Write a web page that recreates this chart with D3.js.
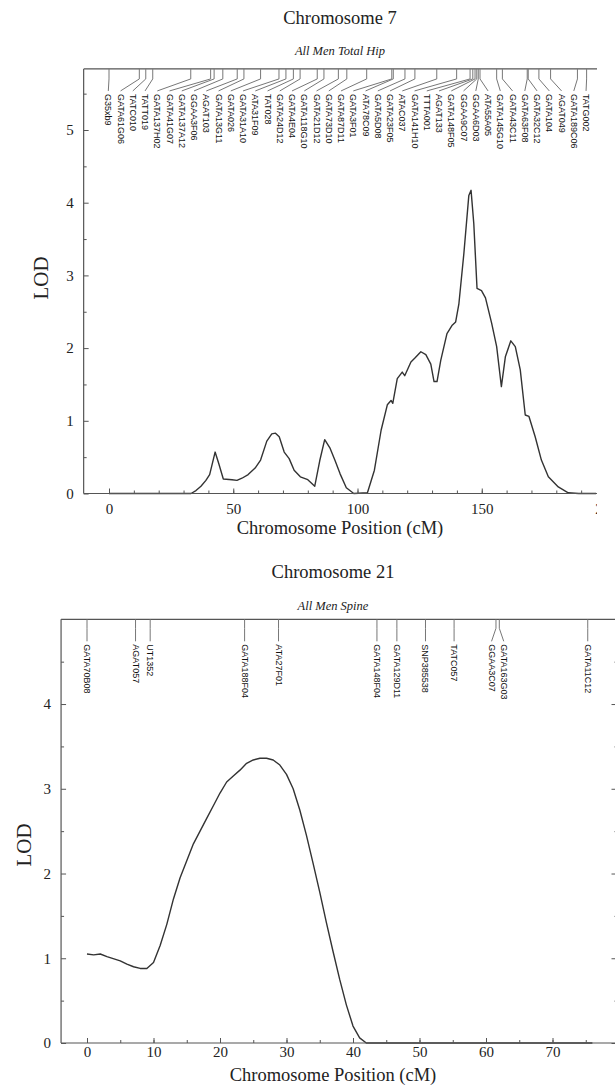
<!DOCTYPE html>
<html><head><meta charset="utf-8">
<script src="https://cdn.jsdelivr.net/npm/d3@7"></script>
<style>body{margin:0;background:#fff}svg{display:block}</style>
</head><body>
<svg id="c" width="615" height="1085"></svg>
<script>
// ---------- Chromosome 7 (All Men Total Hip) ----------
const chr7Markers = ["G35xb9","GATA61G06","TATC010","TATT019","GATA137H02","GATA41G07","GATA137A12","GGAA3F06","AGAT103","GATA13G11","GATA026","GATA31A10","ATA31F09","TAT028","GATA24D12","GATA4E04","GATA118G10","GATA21D12","GATA73D10","GATA87D11","GATA3F01","ATA78C09","GATA5D08","GATA23F05","ATAC037","GATA141H10","TTTA001","AGAT133","GATA148F05","GGAA9C07","GGAA6D03","ATA55A05","GATA145G10","GATA43C11","GATA63F08","GATA32C12","GATA104","AGAT049","GATA189C06","TATG002"];
const chr7MarkerPos = [0,12.2,14.8,17.6,32.9,40.9,42.3,45.8,51.6,54.3,61.0,68.4,71.2,74.2,76.9,83.8,86.5,92.3,95.7,103.7,113.8,114.4,119.1,123.1,131.9,139.9,145.3,146.4,147.3,148.0,148.6,149.3,156.0,158.3,168.3,168.7,173.0,177.7,188.5,192.2];
const chr7Pos = [0,10,20,30,33,35,37,39,40.5,42.7,44.1,46,49.5,51.5,53.5,56,58.8,61,63.5,65.5,67,68.5,70.5,72.5,74.5,77,80,82.8,84.8,86.8,89,91,93,95.5,98.5,104,106.8,109.5,112,113.5,114.2,116,118,119,121.5,123,125.5,127.5,129.5,130.8,132,133.5,136,138,139.5,140.8,142.8,144.8,145.7,146.8,148.1,149.9,151.5,154,156,157.9,159.5,161.7,163.5,165.5,167.5,169,171.5,174,176.8,180.8,184.8,189,196];
const chr7Lod = [0,0,0,0,0,0.04,0.10,0.18,0.26,0.57,0.42,0.20,0.19,0.18,0.21,0.26,0.35,0.46,0.72,0.82,0.83,0.78,0.57,0.48,0.32,0.23,0.19,0.10,0.45,0.74,0.62,0.45,0.27,0.08,0,0.01,0.32,0.87,1.22,1.28,1.24,1.58,1.67,1.62,1.81,1.86,1.95,1.91,1.78,1.54,1.54,1.83,2.20,2.31,2.36,2.61,3.30,4.10,4.17,3.71,2.82,2.79,2.69,2.34,2.02,1.47,1.88,2.10,2.02,1.70,1.08,1.06,0.78,0.46,0.23,0.09,0.01,0,0];
const chr7XTicks = [0,50,100,150,200];
const chr7XMinor = [0,10,20,30,40,50,60,70,80,90,100,110,120,130,140,150,160,170,180,190];
const chr7YTicks = [0,1,2,3,4,5];
const chr7YMinor = [0.5,1.5,2.5,3.5,4.5,5.5];

// ---------- Chromosome 21 (All Men Spine) ----------
const chr21Markers = ["GATA70B08","AGAT057","UT1352","GATA188F04","ATA27F01","GATA148F04","GATA129D11","SNP385538","TATC057","GGAA3C07","GATA163G03","GATA11C12"];
const chr21MarkerPos = [0,7.3,9.5,23.7,28.8,43.6,46.6,50.9,55.2,61.5,62.0,75.3];
const chr21Pos = [0,1,2,3,5,6,7,8,9,10,11,12,13,14,15,16,17,18,19,20,21,22,23,24,25,26,27,28,29,30,31,32,33,34,35,36,37,38,39,40,41,42,76];
const chr21Lod = [1.05,1.04,1.05,1.02,0.97,0.93,0.90,0.88,0.88,0.95,1.15,1.40,1.70,1.95,2.15,2.35,2.50,2.65,2.80,2.95,3.08,3.15,3.22,3.30,3.34,3.36,3.36,3.34,3.28,3.17,3.00,2.75,2.45,2.12,1.78,1.42,1.08,0.75,0.45,0.20,0.06,0,0];
const chr21XTicks = [0,10,20,30,40,50,60,70];
const chr21XMinor = [0,5,10,15,20,25,30,35,40,45,50,55,60,65,70,75];
const chr21YTicks = [0,1,2,3,4];
const chr21YMinor = [0.5,1.5,2.5,3.5,4.5];

const svg = d3.select("#c");
const SERIF = "'Liberation Serif','Times New Roman',serif";
const SANS = "'Liberation Sans',Arial,sans-serif";
const AX = "#555";

function panel(o) {
  const g = svg.append("g");
  if (o.clipW) {
    const id = "clip" + o.id;
    svg.append("defs").append("clipPath").attr("id", id)
      .append("rect").attr("x", 0).attr("y", o.clipY0).attr("width", o.clipW).attr("height", o.clipY1 - o.clipY0);
    g.attr("clip-path", `url(#${id})`);
  }
  const x = o.x, y = o.y;
  const L = x(o.xMin), R = o.frameRight, T = y(o.yMax), B = y(0);

  // titles
  g.append("text").attr("x", o.titleX).attr("y", o.titleY).attr("text-anchor", "middle")
    .style("font-family", SERIF).style("font-size", "18.5px").attr("fill", "#222").text(o.title);
  g.append("text").attr("x", o.titleX).attr("y", o.subY).attr("text-anchor", "middle")
    .style("font-family", SERIF).style("font-style", "italic").style("font-size", "12.5px").attr("fill", "#222").text(o.sub);

  // curve
  const pts = o.pos.map((p, i) => [p, o.lod[i]]);
  g.append("path").datum(pts)
    .attr("d", d3.line().x(d => x(d[0])).y(d => y(d[1])))
    .attr("fill", "none").attr("stroke", "#333").attr("stroke-width", 1.4).attr("stroke-linejoin", "round");

  // frame lines
  g.append("line").attr("x1", L).attr("x2", L).attr("y1", T).attr("y2", B).attr("stroke", AX).attr("stroke-width", 1.2);
  g.append("line").attr("x1", L).attr("x2", R).attr("y1", T).attr("y2", T).attr("stroke", AX).attr("stroke-width", 1.2);
  g.append("line").attr("x1", L).attr("x2", o.axisRight).attr("y1", B).attr("y2", B).attr("stroke", AX).attr("stroke-width", 1.2);
  if (o.rightAxisX) {
    g.append("line").attr("x1", o.rightAxisX).attr("x2", o.rightAxisX).attr("y1", T).attr("y2", B).attr("stroke", AX).attr("stroke-width", 1.2);
  }

  // x axis (ticks point inward)
  const xa = g.append("g").attr("transform", `translate(0,${B})`)
    .call(d3.axisBottom(x).tickValues(o.xTicks).tickSize(-5).tickPadding(o.xPad).tickFormat(d3.format("d")));
  const xm = g.append("g").attr("transform", `translate(0,${B})`)
    .call(d3.axisBottom(x).tickValues(o.xMinor).tickSize(-3).tickFormat(""));
  [xa, xm].forEach(a => { a.select(".domain").remove(); a.selectAll("line").attr("stroke", AX); });
  xa.selectAll("text").style("font-family", SERIF).style("font-size", "15px").attr("fill", "#222");

  // y axis (ticks point inward)
  const ya = g.append("g").attr("transform", `translate(${L},0)`)
    .call(d3.axisLeft(y).tickValues(o.yTicks).tickSize(-5).tickPadding(10).tickFormat(d3.format("d")));
  const ym = g.append("g").attr("transform", `translate(${L},0)`)
    .call(d3.axisLeft(y).tickValues(o.yMinor).tickSize(-3).tickFormat(""));
  [ya, ym].forEach(a => { a.select(".domain").remove(); a.selectAll("line").attr("stroke", AX); });
  ya.selectAll("text").style("font-family", SERIF).style("font-size", "15px").attr("fill", "#222");
  if (o.rightAxisX) {
    const ra = g.append("g").attr("transform", `translate(${o.rightAxisX},0)`)
      .call(d3.axisRight(y).tickValues(o.yTicks).tickSize(-5).tickFormat(""));
    const rm = g.append("g").attr("transform", `translate(${o.rightAxisX},0)`)
      .call(d3.axisRight(y).tickValues(o.yMinor).tickSize(-2).tickFormat(""));
    [ra, rm].forEach(a => { a.select(".domain").remove(); a.selectAll("line").attr("stroke", AX); });
  }

  // axis titles
  g.append("text").attr("x", o.xTitleX).attr("y", o.xTitleY).attr("text-anchor", "middle")
    .style("font-family", SERIF).style("font-size", "18.5px").attr("fill", "#222").text("Chromosome Position (cM)");
  g.append("text").attr("transform", `translate(${o.lodX},${o.lodY}) rotate(-90)`).attr("text-anchor", "middle")
    .style("font-family", SERIF).style("font-size", "21px").attr("fill", "#222").text("LOD");

  // markers
  const mk = g.append("g");
  o.markers.forEach((name, i) => {
    const mx = x(o.markerPos[i]);
    const lx = o.labelX[i];
    const yBend = T + o.bend, yEnd = T + o.legEnd;
    mk.append("path").attr("d", `M${mx},${T}V${yBend}L${lx},${yEnd}`)
      .attr("fill", "none").attr("stroke", "#777").attr("stroke-width", 1);
    mk.append("text").attr("transform", `translate(${lx},${yEnd + 3}) rotate(90)`)
      .attr("dominant-baseline", "central")
      .style("font-family", SANS).style("font-size", "9px").attr("fill", "#111").text(name);
  });
}

// ---- top panel ----
const x7 = d3.scaleLinear().domain([0, 150]).range([109, 481.75]);
const y7 = d3.scaleLinear().domain([0, 5]).range([493.5, 130]);
const lab7 = chr7Markers.map((d, i) => 108.3 + 12.25 * i);
panel({
  id: 7, x: x7, y: y7, xMin: -10.2, yMax: 5.84, frameRight: 597, axisRight: 597,
  clipW: 597, clipY0: 0, clipY1: 545, xPad: 10,
  title: "Chromosome 7", sub: "All Men Total Hip", titleX: 340, titleY: 24, subY: 55,
  pos: chr7Pos, lod: chr7Lod, xTicks: chr7XTicks, xMinor: chr7XMinor, yTicks: chr7YTicks, yMinor: chr7YMinor,
  xTitleX: 340, xTitleY: 534, lodX: 48, lodY: 278,
  markers: chr7Markers, markerPos: chr7MarkerPos, labelX: lab7, bend: 10, legEnd: 22
});

// ---- bottom panel ----
const x21 = d3.scaleLinear().domain([0, 70]).range([87, 552.5]);
const y21 = d3.scaleLinear().domain([0, 5]).range([1043, 619.3]);
// spread colliding labels
const raw21 = chr21MarkerPos.map(p => x21(p));
const lab21 = raw21.slice();
for (let i = 1; i < lab21.length; i++) {
  if (lab21[i] - lab21[i - 1] < 12.25) {
    const mid = (raw21[i] + raw21[i - 1]) / 2;
    lab21[i - 1] = mid - 6.1; lab21[i] = mid + 6.1;
  }
}
panel({
  id: 21, x: x21, y: y21, xMin: -3.9, yMax: 5, frameRight: 615, axisRight: 615, rightAxisX: 616.5, xPad: 3,
  title: "Chromosome 21", sub: "All Men Spine", titleX: 333, titleY: 578, subY: 610,
  pos: chr21Pos, lod: chr21Lod, xTicks: chr21XTicks, xMinor: chr21XMinor, yTicks: chr21YTicks, yMinor: chr21YMinor,
  xTitleX: 333, xTitleY: 1081, lodX: 31, lodY: 845,
  markers: chr21Markers, markerPos: chr21MarkerPos, labelX: lab21, bend: 9, legEnd: 22
});
</script>
</body></html>
